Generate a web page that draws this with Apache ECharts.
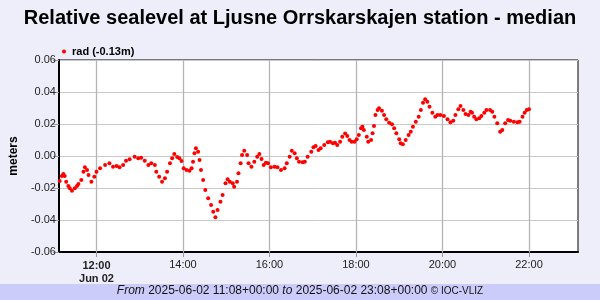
<!DOCTYPE html>
<html>
<head>
<meta charset="utf-8">
<script src="https://cdn.jsdelivr.net/npm/echarts@6/dist/echarts.min.js"></script>
<style>
html,body{margin:0;padding:0;background:#eeeefb;}
#c{width:600px;height:300px;}
</style>
</head>
<body>
<div id="c"></div>
<script>
const seriesName = "rad (-0.13m)";
const times = ["11:09","11:12","11:14","11:16","11:18","11:21","11:23","11:26","11:30","11:33","11:35","11:39","11:42","11:44","11:47","11:49","11:53","11:57","12:00","12:05","12:12","12:18","12:23","12:28","12:32","12:37","12:41","12:46","12:53","12:58","13:02","13:07","13:12","13:16","13:21","13:23","13:27","13:31","13:35","13:38","13:42","13:45","13:48","13:52","13:55","13:58","14:01","14:05","14:09","14:12","14:14","14:16","14:18","14:21","14:23","14:25","14:28","14:31","14:35","14:39","14:42","14:45","14:48","14:52","14:55","14:59","15:02","15:05","15:09","15:11","15:15","15:17","15:20","15:22","15:25","15:29","15:31","15:35","15:39","15:43","15:46","15:49","15:52","15:55","15:58","16:02","16:07","16:11","16:16","16:21","16:24","16:28","16:31","16:35","16:38","16:41","16:46","16:49","16:53","16:58","17:01","17:04","17:08","17:11","17:16","17:21","17:24","17:28","17:31","17:34","17:38","17:41","17:45","17:48","17:51","17:54","17:58","18:01","18:04","18:07","18:09","18:11","18:15","18:17","18:21","18:23","18:25","18:27","18:30","18:32","18:36","18:39","18:42","18:46","18:50","18:53","18:56","19:00","19:02","19:05","19:09","19:13","19:16","19:19","19:23","19:27","19:30","19:33","19:36","19:39","19:42","19:46","19:50","19:53","19:57","20:02","20:07","20:11","20:15","20:18","20:22","20:25","20:29","20:32","20:36","20:39","20:41","20:44","20:47","20:51","20:54","20:58","21:01","21:06","21:09","21:12","21:16","21:20","21:23","21:27","21:31","21:34","21:39","21:44","21:47","21:51","21:54","21:57","22:00"];
const values = [-0.0156,-0.0125,-0.0113,-0.0125,-0.0161,-0.0188,-0.0202,-0.0217,-0.0202,-0.0188,
-0.0175,-0.0150,-0.0098,-0.0071,-0.0088,-0.0119,-0.0161,-0.0129,-0.0098,-0.0077,
-0.0056,-0.0046,-0.0067,-0.0063,-0.0071,-0.0056,-0.0029,-0.0021,-0.0004,-0.0014,
-0.0011,-0.0029,-0.0056,-0.0046,-0.0056,-0.0098,-0.0129,-0.0161,-0.0139,-0.0098,
-0.0046,-0.0014,0.0013,-0.0006,-0.0014,-0.0031,-0.0077,-0.0088,-0.0092,-0.0077,
-0.0036,0.0017,0.0048,0.0027,-0.0025,-0.0088,-0.0150,-0.0213,-0.0264,-0.0306,
-0.0348,-0.0383,-0.0338,-0.0286,-0.0244,-0.0171,-0.0146,-0.0161,-0.0171,-0.0192,
-0.0161,-0.0108,-0.0046,0.0006,0.0033,0.0006,-0.0046,-0.0067,-0.0036,-0.0004,
0.0013,-0.0019,-0.0056,-0.0042,-0.0046,-0.0071,-0.0067,-0.0071,-0.0088,-0.0077,
-0.0046,-0.0004,0.0033,0.0017,-0.0014,-0.0036,-0.0039,-0.0036,-0.0004,0.0027,
0.0054,0.0063,0.0038,0.0048,0.0069,0.0086,0.0089,0.0079,0.0083,0.0069,
0.0089,0.0121,0.0141,0.0125,0.0100,0.0089,0.0089,0.0104,0.0131,0.0173,
0.0183,0.0163,0.0121,0.0089,0.0100,0.0142,0.0188,0.0256,0.0288,0.0298,
0.0283,0.0256,0.0229,0.0208,0.0198,0.0173,0.0142,0.0104,0.0079,0.0073,
0.0100,0.0131,0.0152,0.0183,0.0214,0.0246,0.0288,0.0333,0.0354,0.0339,
0.0308,0.0271,0.0246,0.0256,0.0256,0.0250,0.0229,0.0211,0.0221,0.0256,
0.0292,0.0313,0.0288,0.0263,0.0256,0.0277,0.0271,0.0246,0.0229,0.0236,
0.0250,0.0271,0.0288,0.0288,0.0277,0.0246,0.0204,0.0152,0.0163,0.0204,
0.0225,0.0221,0.0214,0.0211,0.0214,0.0246,0.0271,0.0288,0.0292];
const xTickLabels = ["12:00","14:00","16:00","18:00","20:00","22:00"];
const yTicks = [-0.06,-0.04,-0.02,0.00,0.02,0.04,0.06];
const rangeStart = "11:08", rangeEnd = "23:08";

function toMin(s){const p=s.split(":");return (+p[0])*60+(+p[1]);}
const xTickVals = xTickLabels.map(toMin);
const yMin = yTicks[0], yMax = yTicks[yTicks.length-1];
const data = times.map((t,i)=>[toMin(t), values[i]]);
const font = "Liberation Sans, Arial, sans-serif";

const chart = echarts.init(document.getElementById('c'), null, {renderer:'canvas'});
chart.setOption({
  animation:false,
  backgroundColor:'#eeeefb',
  title:{text:'Relative sealevel at Ljusne Orrskarskajen station - median', left:'center', top:3,
    textStyle:{fontFamily:font, fontWeight:'bold', fontSize:20, color:'#000'}},
  legend:{data:[seriesName], left:57, top:41, icon:'circle', itemWidth:4, itemHeight:4, itemGap:5,
    textStyle:{fontFamily:font, fontWeight:'bold', fontSize:11, color:'#000', padding:[0,0,0,1]}},
  grid:{left:55, right:22, top:60, bottom:48, show:true, backgroundColor:'#fff', borderColor:'#000', borderWidth:1},
  xAxis:{type:'value', min:toMin(rangeStart), max:toMin(rangeEnd),
    axisLine:{onZero:false, lineStyle:{color:'#000', width:2}},
    axisTick:{show:true, customValues:xTickVals, length:5, lineStyle:{color:'#999'}},
    axisLabel:{customValues:xTickVals, fontFamily:font, fontSize:11, color:'#222', margin:7,
      formatter:function(v){const h=Math.floor(v/60),m=v%60;const s=(h<10?'0':'')+h+':'+(m<10?'0':'')+m;
        return h===12?'{b|'+s+'}\n{b|Jun 02}':s;},
      rich:{b:{fontFamily:font, fontWeight:'bold', fontSize:11, color:'#222', lineHeight:13}}},
    splitLine:{show:false}},
  yAxis:{type:'value', min:yMin, max:yMax, interval:0.02,
    name:'meters', nameLocation:'middle', nameGap:36, nameRotate:90,
    nameTextStyle:{fontFamily:font, fontWeight:'bold', fontSize:12, color:'#000'},
    axisLine:{show:true, onZero:false, lineStyle:{color:'#000', width:2}},
    axisTick:{show:true, length:6, lineStyle:{color:'#999'}},
    axisLabel:{fontFamily:font, fontSize:11, color:'#222', margin:3, formatter:v=>v.toFixed(2)},
    splitLine:{show:true, lineStyle:{color:'#c8c8c8', width:1}}},
  series:[
    {name:seriesName, type:'scatter', data:data, symbol:'circle', symbolSize:4,
      itemStyle:{color:'#ff0000', opacity:1}, z:3,
      markLine:{silent:true, symbol:['none','none'], label:{show:false}, z:1,
        lineStyle:{color:'#b4b4b4', width:1.3, type:'solid', opacity:1},
        data:xTickVals.map(v=>[{coord:[v,yMin]},{coord:[v,yMax]}])}}],
  graphic:[
    {type:'rect', left:0, top:284, shape:{width:600, height:16}, style:{fill:'#ccccfa'}, z:-1},
    {type:'text', left:'center', top:285, style:{
      text:'{i|From} {n|2025-06-02 11:08+00:00} {i|to} {n|2025-06-02 23:08+00:00} {s|© IOC-VLIZ}',
      rich:{i:{fontFamily:font, fontStyle:'italic', fontSize:12, fill:'#111'},
            n:{fontFamily:font, fontSize:12, fill:'#111'},
            s:{fontFamily:font, fontSize:10, fill:'#111'}}}}
  ]
});
</script>
</body>
</html>
